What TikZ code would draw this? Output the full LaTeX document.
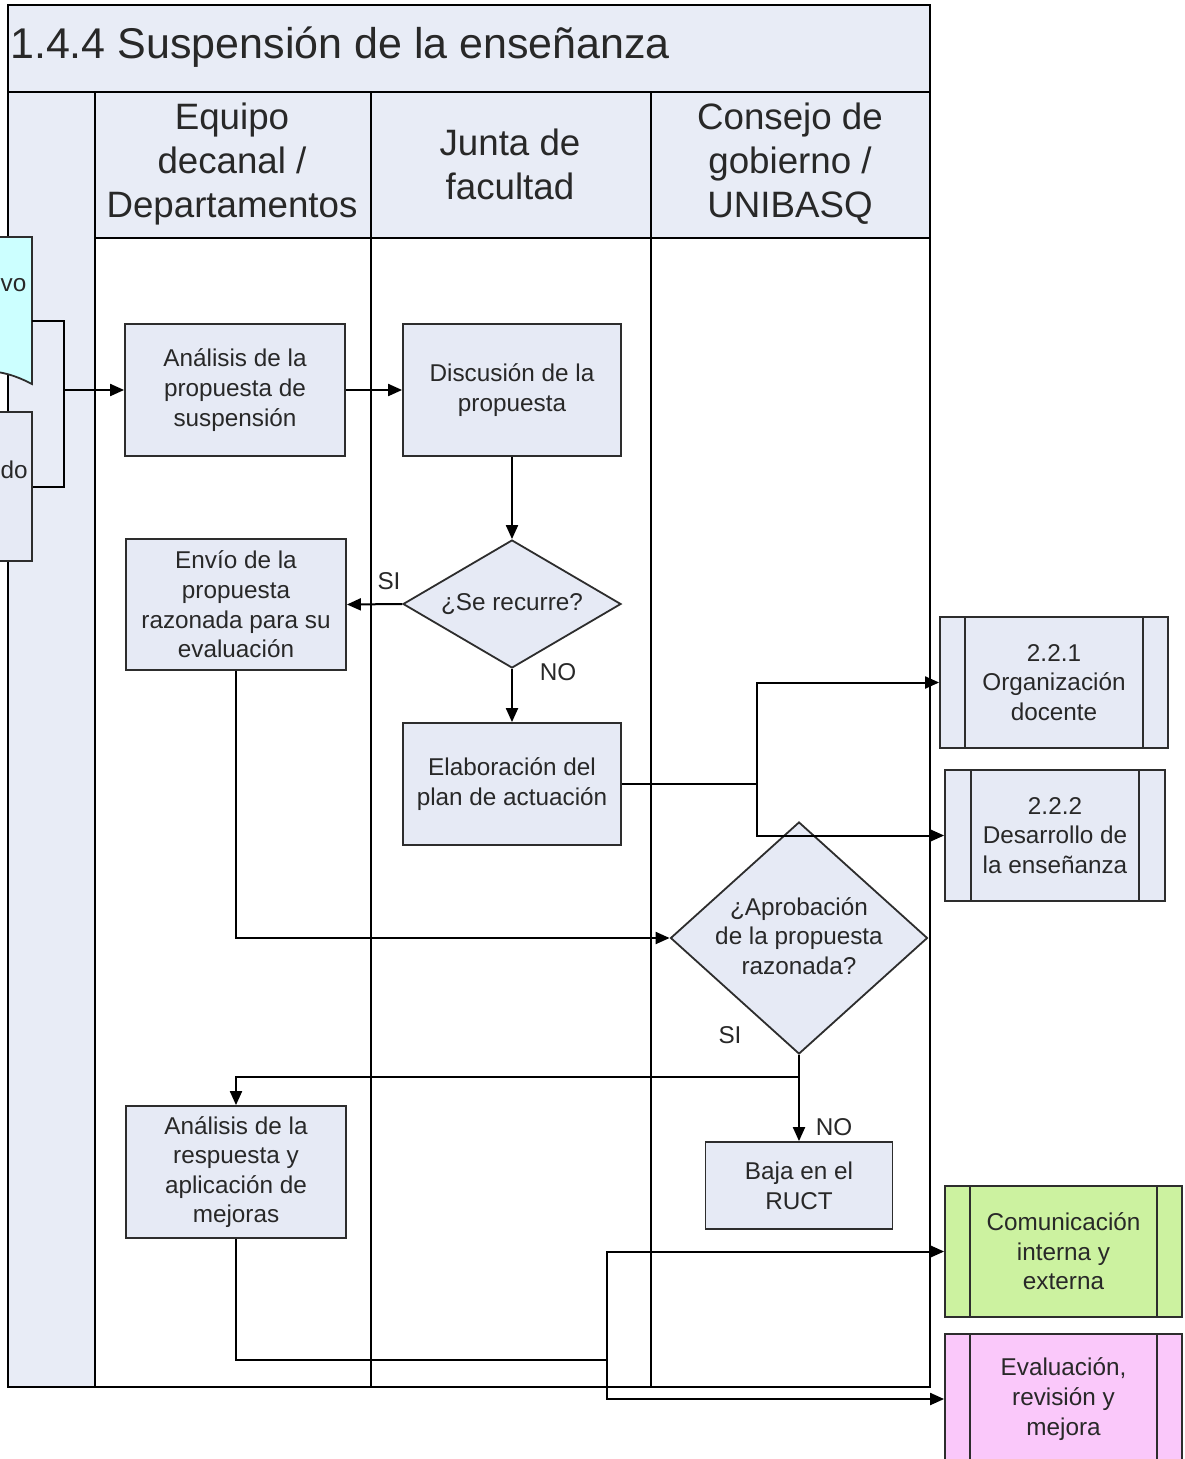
\documentclass[tikz,border=0pt]{standalone}
\usepackage{fontspec}
\setmainfont{Liberation Sans}
\usetikzlibrary{shapes.geometric,arrows.meta,calc}

\definecolor{lanefill}{RGB}{232,236,246}
\definecolor{boxfill}{RGB}{230,234,245}
\definecolor{docfill}{RGB}{204,255,255}
\definecolor{greenfill}{RGB}{204,242,160}
\definecolor{pinkfill}{RGB}{250,200,250}
\definecolor{edge}{RGB}{45,45,45}
\definecolor{ink}{RGB}{40,40,40}

\begin{document}
\begin{tikzpicture}[x=1pt,y=-1pt,
  boxfont/.style={font=\fontsize{24.3}{29.6}\selectfont, text=ink},
  proc/.style={draw=edge, line width=1.8pt, fill=boxfill, align=center, inner sep=0pt, boxfont},
  subproc/.style={proc},
  dec/.style={diamond, draw=edge, line width=1.8pt, fill=boxfill, inner sep=0pt},
  lbl/.style={boxfont, inner sep=0pt},
  head/.style={align=center, font=\fontsize{36.7}{44}\selectfont, text=ink, inner sep=0pt},
  link/.style={line width=2pt, black},
  flow/.style={line width=2pt, black, -{Triangle[length=14pt,width=12pt]}},
  lane/.style={line width=2.6pt, black}
]
\useasboundingbox (0,0) rectangle (1185,1459);
\clip (0,0) rectangle (1185,1459);
\fill[white] (0,0) rectangle (1185,1459);

% pool background: title bar, header row, left strip
\fill[lanefill] (8,5) rectangle (930,238);
\fill[lanefill] (8,92) rectangle (95,1387);

% pool frame and lane separators
\draw[lane] (8,5) rectangle (930,1387);
\draw[lane] (8,92) -- (930,92);
\draw[lane] (95,238) -- (930,238);
\draw[lane] (95,92) -- (95,1387);
\draw[lane] (371,92) -- (371,1387);
\draw[lane] (651,92) -- (651,1387);

% titles
\node[anchor=west, font=\fontsize{43}{50}\selectfont, text=ink, inner sep=0pt] (title) at (10,47) {1.4.4 Suspensión de la enseñanza};
\node[head] (h1) at (232,164) {Equipo\\decanal /\\Departamentos};
\node[head] (h2) at (510,164) {Junta de\\facultad};
\node[head] (h3) at (790,164) {Consejo de\\gobierno /\\UNIBASQ};

% incoming shapes at the left border
\draw[draw=edge, line width=1.8pt, fill=docfill]
  (-10,237) -- (32,237) -- (32,384) .. controls (22,379) and (10,373) .. (-10,371) -- cycle;
\coordinate (docR) at (32,321);
\node[lbl, anchor=west] (doctext) at (0.5,285) {vo};
\node[draw=edge, line width=1.8pt, fill=boxfill, minimum width=52pt, minimum height=149pt, inner sep=0pt] (inbox) at (6,486.5) {};
\node[lbl, anchor=west] (intext) at (0.5,470) {do};

% process steps
\node[proc, minimum width=220pt, minimum height=132pt] (a1) at (235,390) {Análisis de la\\propuesta de\\suspensión};
\node[proc, minimum width=218pt, minimum height=132pt] (disc) at (512,390) {Discusión de la\\propuesta};
\node[dec, minimum width=218pt, minimum height=128pt] (d1) at (512,604) {};
\node[lbl] (d1t) at (512,604) {¿Se recurre?};
\node[proc, minimum width=220pt, minimum height=131pt] (envio) at (236,604.5) {Envío de la\\propuesta\\razonada para su\\evaluación};
\node[proc, minimum width=218pt, minimum height=122pt] (elab) at (512,784) {Elaboración del\\plan de actuación};
\node[dec, minimum width=257pt, minimum height=232pt] (d2) at (799,938) {};
\node[lbl, align=center] (d2t) at (799,936) {¿Aprobación\\de la propuesta\\razonada?};
\node[proc, minimum width=220pt, minimum height=132pt] (resp) at (236,1172) {Análisis de la\\respuesta y\\aplicación de\\mejoras};
\node[proc, minimum width=187pt, minimum height=87pt] (baja) at (799,1185.5) {Baja en el\\RUCT};

% linked subprocesses
\node[subproc, minimum width=228pt, minimum height=131pt] (s221) at (1054,682.5) {2.2.1\\Organización\\docente};
\node[subproc, minimum width=220pt, minimum height=131pt] (s222) at (1055,835.5) {2.2.2\\Desarrollo de\\la enseñanza};
\node[subproc, fill=greenfill, minimum width=237pt, minimum height=131pt] (comm) at (1063.5,1251.5) {Comunicación\\interna y\\externa};
\node[subproc, fill=pinkfill, minimum width=237pt, minimum height=130pt] (eval) at (1063.5,1399) {Evaluación,\\revisión y\\mejora};
\foreach \n/\d in {s221/26, s222/27, comm/26, eval/26}{
  \draw[draw=edge, line width=1.8pt] ($(\n.north west)+(\d,0)$) -- ($(\n.south west)+(\d,0)$);
  \draw[draw=edge, line width=1.8pt] ($(\n.north east)+(-\d,0)$) -- ($(\n.south east)+(-\d,0)$);
}

% connectors
\coordinate (br) at (64,390);
\draw[link] (docR) -- (64,321) |- (inbox.east);
\draw[flow] (br) -- (a1.west);
\draw[flow] (a1.east) -- (disc.west);
\draw[flow] (disc.south) -- (d1.north);
\draw[flow] (d1.west) -- (envio.east);
\draw[flow] (d1.south) -- (elab.north);
\coordinate (k) at (757,784);
\draw[link] (elab.east) -- (k);
\draw[flow] (k) |- (s221.west);
\draw[flow] (k) |- (s222.west);
\draw[flow] (envio.south) |- (d2.west);
\coordinate (j) at (799,1077);
\draw[link] (d2.south) -- (j);
\draw[flow] (j) -| (resp.north);
\draw[flow] (j) -- (baja.north);
\coordinate (m) at (607,1360);
\draw[link] (resp.south) |- (m);
\draw[flow] (m) |- (comm.west);
\draw[flow] (m) |- (eval.west);

% branch labels
\node[lbl] (si1) at (389,581) {SI};
\node[lbl] (no1) at (558,672) {NO};
\node[lbl] (si2) at (730,1035) {SI};
\node[lbl] (no2) at (834,1127) {NO};
\end{tikzpicture}
\end{document}
